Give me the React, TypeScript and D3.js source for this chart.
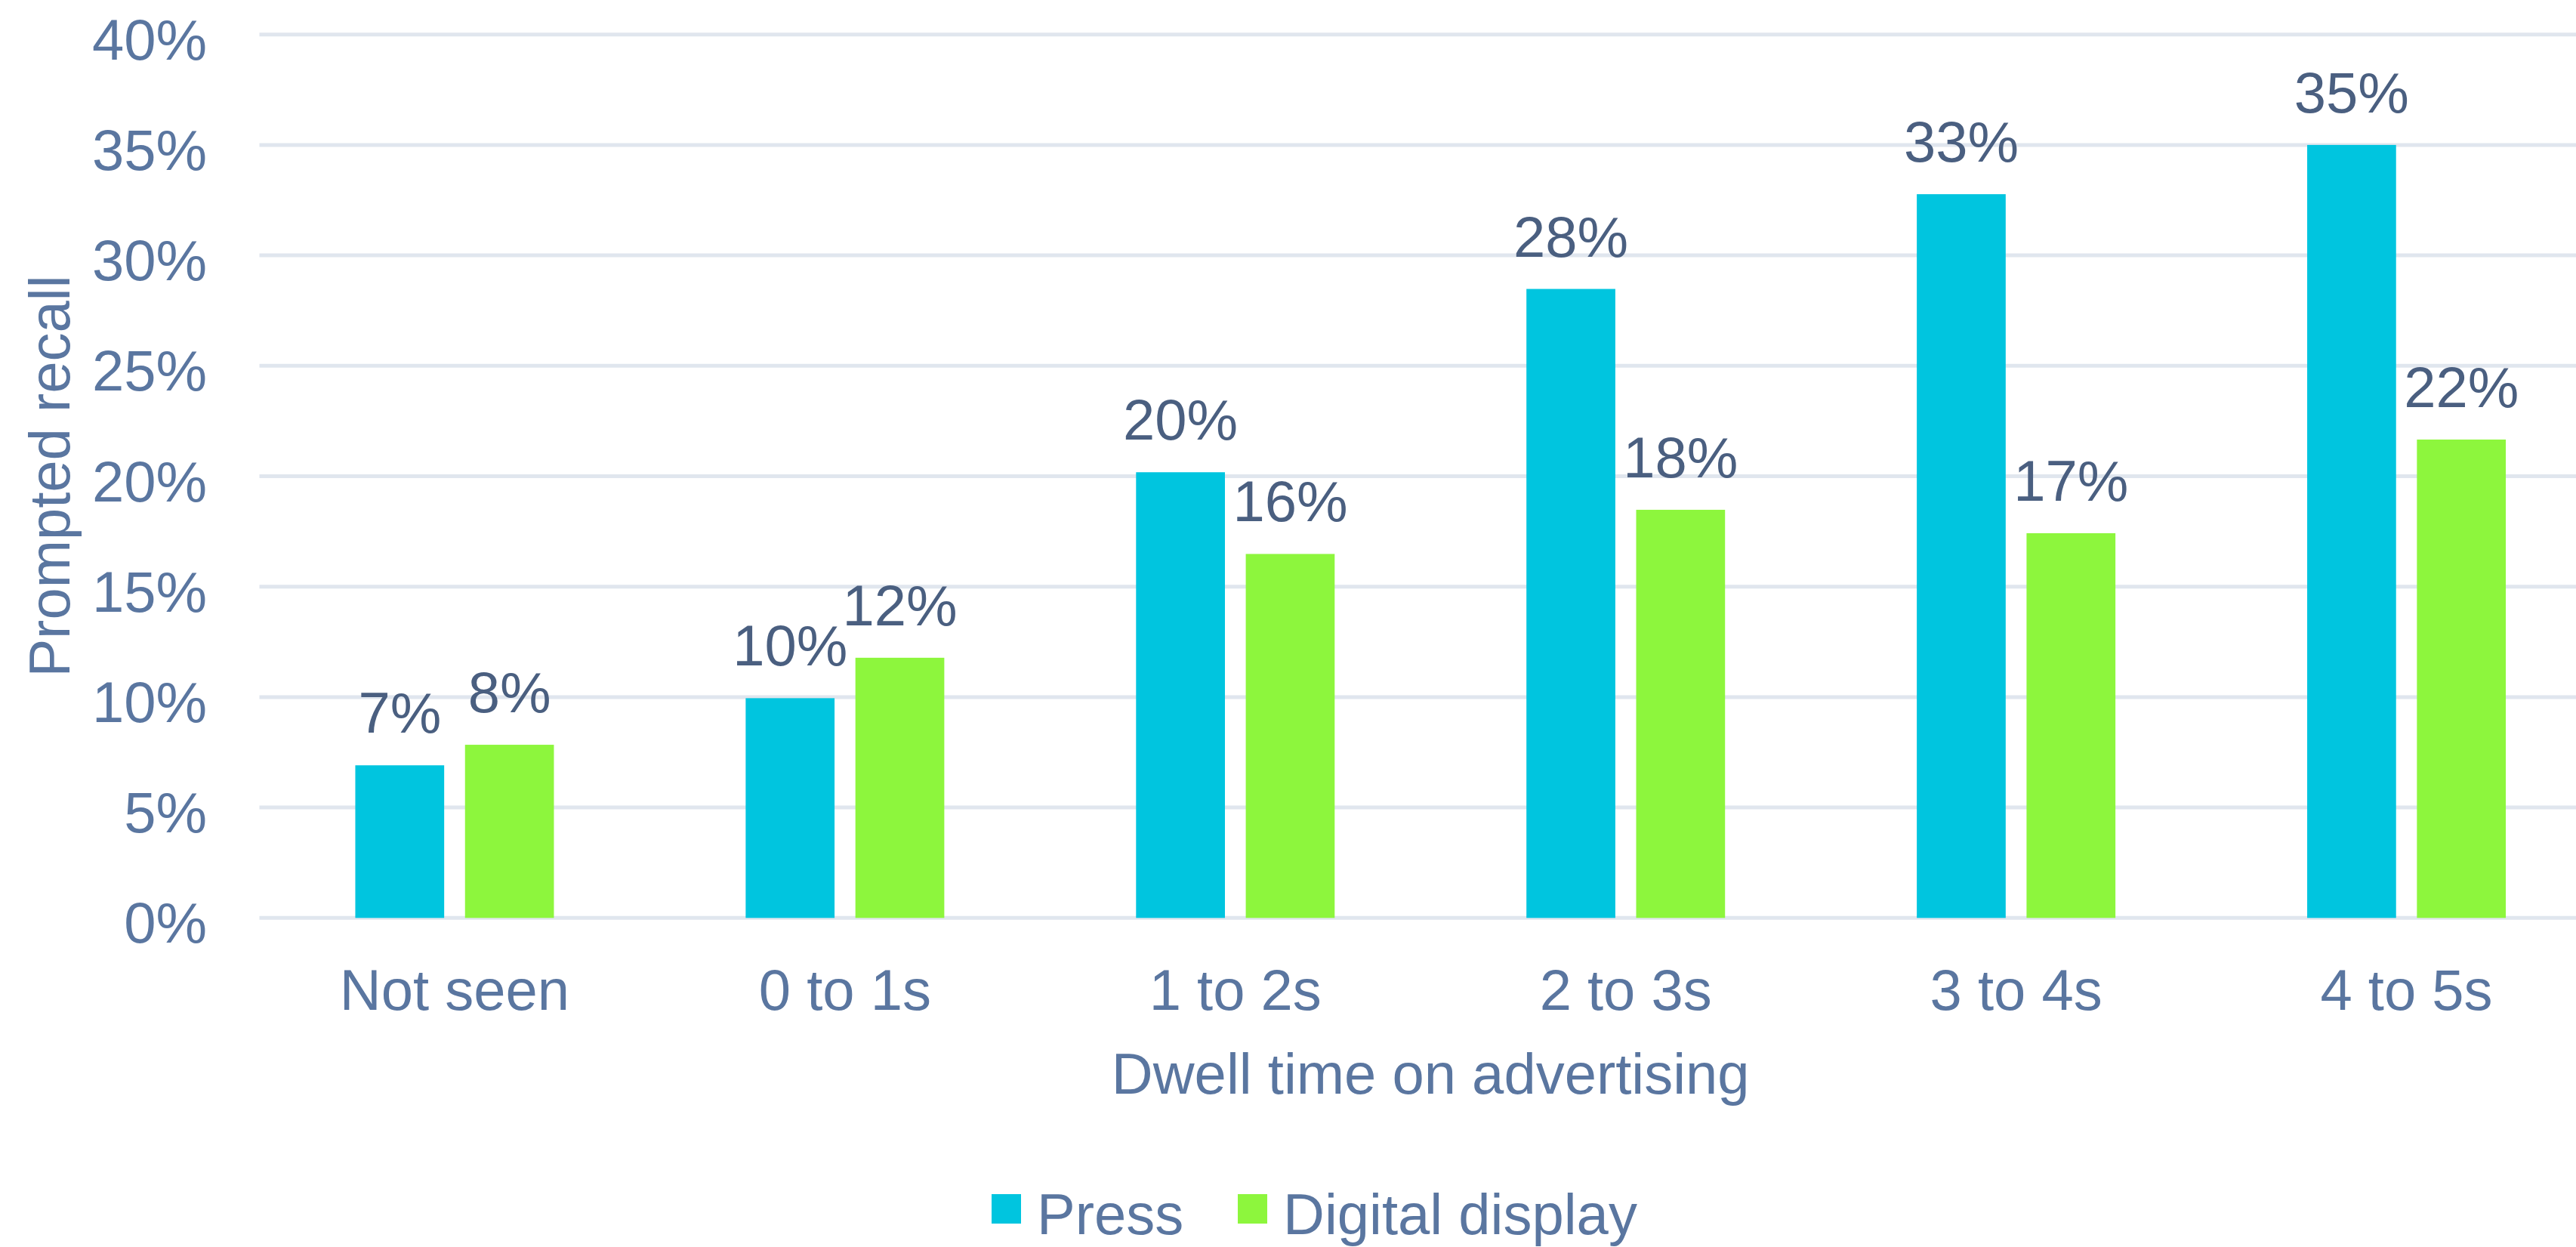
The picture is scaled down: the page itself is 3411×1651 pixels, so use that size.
import React from "react";
import * as d3 from "d3";

const categories = ["Not seen", "0 to 1s", "1 to 2s", "2 to 3s", "3 to 4s", "4 to 5s"];
const seriesNames = ["Press", "Digital display"];
const pressValues = [6.91, 9.95, 20.18, 28.48, 32.77, 35.0];
const digitalValues = [7.84, 11.78, 16.48, 18.48, 17.42, 21.66];
const yTicks = [0, 5, 10, 15, 20, 25, 30, 35, 40];
const colors = ["#00C5DF", "#8DF63D"];
const yTitle = "Prompted recall";
const xTitle = "Dwell time on advertising";

const W = 3411;
const H = 1651;
const FONT = "'Liberation Sans', Arial, Helvetica, sans-serif";
const FS = 76;
const AXIS_COLOR = "#5A76A0";
const LABEL_COLOR = "#4A5F80";
const GRID_COLOR = "#E0E6EE";

export default function App() {
  const plotLeft = 343.5;
  const plotRight = 3445;
  const y = d3.scaleLinear().domain([0, 40]).range([1215.3, 45.7]);
  const x0 = d3.scaleBand<string>().domain(categories).range([plotLeft, plotRight]).paddingInner(0).paddingOuter(0);
  const pairW = 263;
  const x1 = d3.scaleBand<string>().domain(seriesNames).range([-pairW / 2, pairW / 2]).paddingInner(0.19).paddingOuter(0);
  const seriesValues = [pressValues, digitalValues];
  const fmt = (v: number) => `${Math.round(v)}%`;
  const legendBase = 1634;

  return (
    <svg
      width={W}
      height={H}
      style={{ position: "absolute", left: 0, top: 0, background: "#fff" }}
      fontFamily={FONT}
    >
      <rect x={0} y={0} width={W} height={H} fill="#fff" />
      {yTicks.map((t) => (
        <line key={"g" + t} x1={plotLeft} x2={plotRight} y1={y(t)} y2={y(t)} stroke={GRID_COLOR} strokeWidth={5} />
      ))}
      {yTicks.map((t) => (
        <text key={"t" + t} x={274} y={y(t) + 33} textAnchor="end" fontSize={FS} fill={AXIS_COLOR}>
          {`${t}%`}
        </text>
      ))}
      {categories.map((c, i) => {
        const cx = (x0(c) as number) + x0.bandwidth() / 2;
        return seriesNames.map((s, si) => {
          const v = seriesValues[si][i];
          const bx = cx + (x1(s) as number);
          return (
            <g key={c + s}>
              <rect x={bx} y={y(v)} width={x1.bandwidth()} height={y(0) - y(v)} fill={colors[si]} />
              <text
                x={bx + x1.bandwidth() / 2}
                y={y(v) - 43}
                textAnchor="middle"
                fontSize={FS}
                fill={LABEL_COLOR}
              >
                {fmt(v)}
              </text>
            </g>
          );
        });
      })}
      {categories.map((c) => (
        <text
          key={"c" + c}
          x={(x0(c) as number) + x0.bandwidth() / 2}
          y={1337.3}
          textAnchor="middle"
          fontSize={FS}
          fill={AXIS_COLOR}
        >
          {c}
        </text>
      ))}
      <text x={(plotLeft + plotRight) / 2} y={1448.3} textAnchor="middle" fontSize={FS} fill={AXIS_COLOR}>
        {xTitle}
      </text>
      <text
        transform={`translate(92, ${(y(0) + y(40)) / 2}) rotate(-90)`}
        textAnchor="middle"
        fontSize={FS}
        fill={AXIS_COLOR}
      >
        {yTitle}
      </text>
      <g>
        <rect x={1313} y={legendBase - 53} width={39} height={39} fill={colors[0]} />
        <text x={1373} y={legendBase} fontSize={FS} fill={AXIS_COLOR}>
          {seriesNames[0]}
        </text>
        <rect x={1639} y={legendBase - 53} width={39} height={39} fill={colors[1]} />
        <text x={1699} y={legendBase} fontSize={FS} fill={AXIS_COLOR}>
          {seriesNames[1]}
        </text>
      </g>
    </svg>
  );
}
